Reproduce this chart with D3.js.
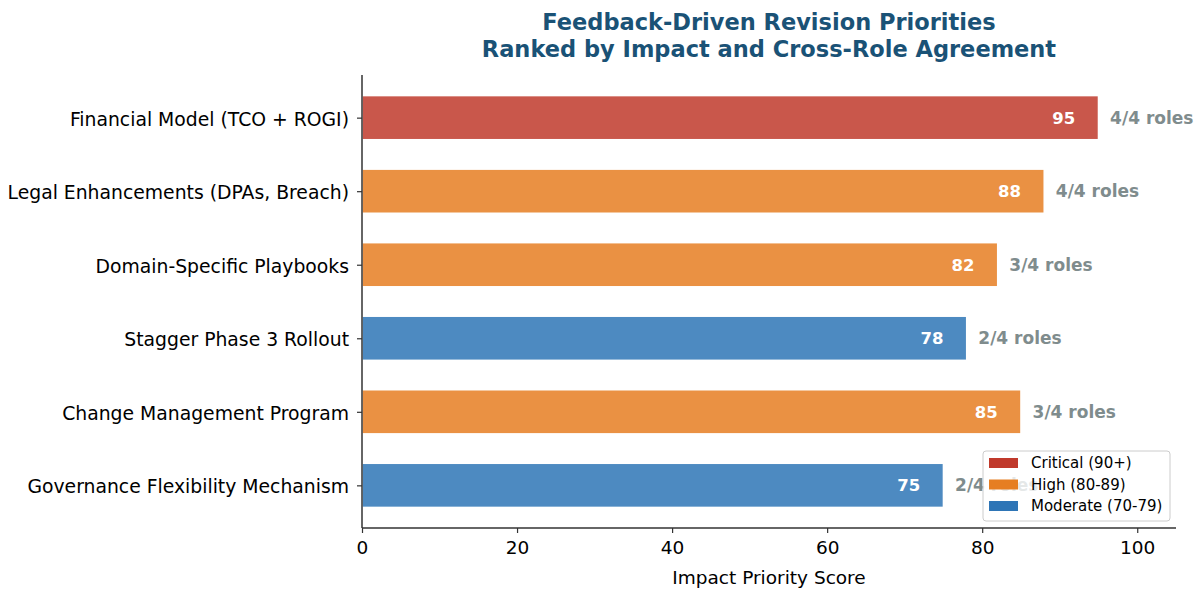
<!DOCTYPE html>
<html>
<head>
<meta charset="utf-8">
<script src="https://cdn.jsdelivr.net/npm/d3@7"></script>
<style>
  html, body { margin: 0; padding: 0; background: #fff; }
  svg { display: block; font-family: "DejaVu Sans", sans-serif; }
</style>
</head>
<body>
<svg id="chart" width="1195" height="592"></svg>
<script>
// Revision priorities, listed top to bottom
const categories = [
  "Financial Model (TCO + ROGI)",
  "Legal Enhancements (DPAs, Breach)",
  "Domain-Specific Playbooks",
  "Stagger Phase 3 Rollout",
  "Change Management Program",
  "Governance Flexibility Mechanism"
];
const scores = [95, 88, 82, 78, 85, 75];
const roleAgreement = ["4/4 roles", "4/4 roles", "3/4 roles", "2/4 roles", "3/4 roles", "2/4 roles"];
const tiers = ["Critical (90+)", "High (80-89)", "Moderate (70-79)"];
const tierColors = ["#c0392b", "#e67e22", "#2e75b6"];
const xTicks = [0, 20, 40, 60, 80, 100];

function tierOf(v) { return v >= 90 ? 0 : v >= 80 ? 1 : 2; }

const svg = d3.select("#chart");
const margin = { left: 362, right: 1176, top: 75, bottom: 528 };

const x = d3.scaleLinear().domain([0, 105]).range([margin.left, margin.right]);
// bars of height 0.6 on integer slots, padded like a default plot
const y = d3.scaleLinear().domain([-0.58, 5.58]).range([margin.top, margin.bottom]);
const barH = 0.6;

// title
const titleLines = ["Feedback-Driven Revision Priorities", "Ranked by Impact and Cross-Role Agreement"];
titleLines.forEach((t, i) => {
  svg.append("text")
    .attr("x", 769).attr("y", 30 + i * 27)
    .attr("text-anchor", "middle")
    .attr("font-size", 22.5).attr("font-weight", "bold")
    .attr("fill", "#1a5276")
    .text(t);
});

// bars
const g = svg.append("g");
g.selectAll("rect.bar")
  .data(scores)
  .join("rect")
  .attr("class", "bar")
  .attr("x", x(0))
  .attr("y", (d, i) => y(i - barH / 2))
  .attr("width", d => x(d) - x(0))
  .attr("height", y(barH) - y(0))
  .attr("fill", d => tierColors[tierOf(d)])
  .attr("fill-opacity", 0.85)
  .attr("stroke", "#fff")
  .attr("stroke-width", 1.5);

// score labels inside bar ends
g.selectAll("text.score")
  .data(scores)
  .join("text")
  .attr("class", "score")
  .attr("x", d => x(d - 3))
  .attr("y", (d, i) => y(i))
  .attr("dy", "0.36em")
  .attr("text-anchor", "end")
  .attr("font-size", 16.5).attr("font-weight", "bold")
  .attr("fill", "#fff")
  .text(d => d);

// cross-role agreement labels
g.selectAll("text.roles")
  .data(scores)
  .join("text")
  .attr("class", "roles")
  .attr("x", d => x(d + 1.5))
  .attr("y", (d, i) => y(i))
  .attr("dy", "0.36em")
  .attr("text-anchor", "start")
  .attr("font-size", 17).attr("font-weight", "bold")
  .attr("fill", "#7f8c8d")
  .text((d, i) => roleAgreement[i]);

// x axis
const xAxis = svg.append("g")
  .attr("transform", `translate(0,${margin.bottom})`)
  .call(d3.axisBottom(x).tickValues(xTicks).tickSize(5).tickPadding(8).tickFormat(d3.format("d")));
xAxis.select(".domain").attr("stroke", "#333").attr("stroke-width", 1.5)
  .attr("d", `M${margin.left},0H${margin.right}`);
xAxis.selectAll(".tick line").attr("stroke", "#333").attr("stroke-width", 1.2);
xAxis.selectAll(".tick text").attr("font-size", 18.5).attr("fill", "#000")
  .attr("font-family", "DejaVu Sans, sans-serif");

svg.append("text")
  .attr("x", x(52.5)).attr("y", 584)
  .attr("text-anchor", "middle")
  .attr("font-size", 18.5).attr("fill", "#000")
  .text("Impact Priority Score");

// y axis
const yAxis = svg.append("g")
  .attr("transform", `translate(${margin.left},0)`)
  .call(d3.axisLeft(y).tickValues(d3.range(categories.length)).tickSize(5).tickPadding(8)
    .tickFormat(i => categories[i]));
yAxis.select(".domain").attr("stroke", "#333").attr("stroke-width", 1.5)
  .attr("d", `M0,${margin.top}V${margin.bottom}`);
yAxis.selectAll(".tick line").attr("stroke", "#333").attr("stroke-width", 1.2);
yAxis.selectAll(".tick text").attr("font-size", 18.8).attr("fill", "#000")
  .attr("dy", "0.4em")
  .attr("font-family", "DejaVu Sans, sans-serif");

// legend
const lg = svg.append("g").attr("transform", "translate(983,451)");
lg.append("rect")
  .attr("width", 187).attr("height", 70)
  .attr("rx", 3)
  .attr("fill", "#fff").attr("fill-opacity", 0.8)
  .attr("stroke", "#ccc");
tiers.forEach((t, i) => {
  lg.append("rect")
    .attr("x", 6).attr("y", 7 + i * 21.5)
    .attr("width", 29).attr("height", 10)
    .attr("fill", tierColors[i]);
  lg.append("text")
    .attr("x", 48).attr("y", 12 + i * 21.5)
    .attr("dy", "0.36em")
    .attr("font-size", 15).attr("fill", "#000")
    .text(t);
});
</script>
</body>
</html>
